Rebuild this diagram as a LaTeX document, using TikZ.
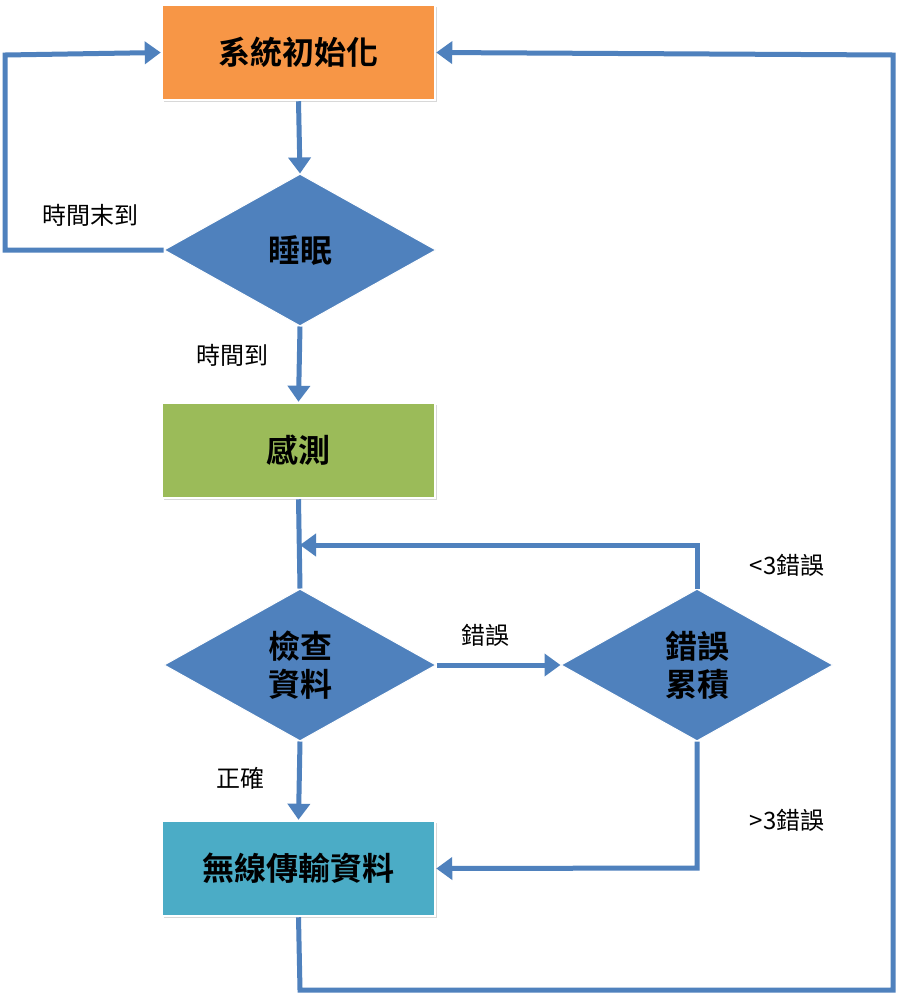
\documentclass[tikz,border=0pt]{standalone}
\usepackage{fontspec}
\newfontfamily\cjk{Noto Sans CJK TC}[BoldFont={Noto Sans CJK TC Bold}]
\usetikzlibrary{shapes.geometric,arrows.meta,shadows}
\definecolor{bl}{HTML}{4F81BD}
\definecolor{orng}{HTML}{F79646}
\definecolor{grn}{HTML}{9BBB59}
\definecolor{aqua}{HTML}{4BACC6}
\begin{document}
\begin{tikzpicture}[x=1pt,y=-1pt,
 box/.style={rectangle,draw=white,line width=2.5pt,minimum width=273pt,minimum height=95pt,font=\cjk\bfseries\fontsize{32}{36}\selectfont,drop shadow={shadow xshift=2pt,shadow yshift=-2pt,opacity=0.3}},
 dia/.style={diamond,fill=bl,draw=white,line width=1pt,inner sep=0pt,minimum width=272pt,minimum height=152pt,align=center,font=\cjk\bfseries\fontsize{32}{38}\selectfont},
 lbl/.style={font=\cjk\fontsize{24}{28}\selectfont},
 ar/.style={draw=bl,line width=5pt,-{Triangle[length=16pt,width=22pt]}}]
\fill[white] (0,0) rectangle (900,994);
\node[box,fill=orng] (init) at (298.5,52.5) {系統初始化};
\node[dia] (sleep) at (300,250) {睡眠};
\node[box,fill=grn] (sense) at (298.5,450.5) {感測};
\node[dia] (check) at (300,665) {檢查\\資料};
\node[dia] (acc) at (697,665) {錯誤\\累積};
\node[box,fill=aqua] (tx) at (298.5,868.5) {無線傳輸資料};
\coordinate (m1) at (300,545);
\draw[ar] (init.south) -- (sleep.north);
\draw[ar] (sleep.west) -- (5,250) -- (5,55) -- (init.west);
\node[lbl] (l1) at (90,215) {時間末到};
\draw[ar] (sleep.south) -- (sense.north);
\node[lbl] (l2) at (232,355) {時間到};
\draw[draw=bl,line width=5pt] (sense.south) -- (check.north);
\draw[ar] (acc.north) -- (697,545) -- (m1);
\node[lbl] (l3) at (787,565) {<3錯誤};
\draw[ar] (check.east) -- (acc.west);
\node[lbl] (l4) at (485,635) {錯誤};
\draw[ar] (check.south) -- (tx.north);
\node[lbl] (l5) at (240,778) {正確};
\draw[ar] (acc.south) -- (697,868) -- (tx.east);
\node[lbl] (l6) at (787,820) {>3錯誤};
\draw[ar] (tx.south) -- (300,990) -- (893,990) -- (893,55) -- (init.east);
\end{tikzpicture}
\end{document}
